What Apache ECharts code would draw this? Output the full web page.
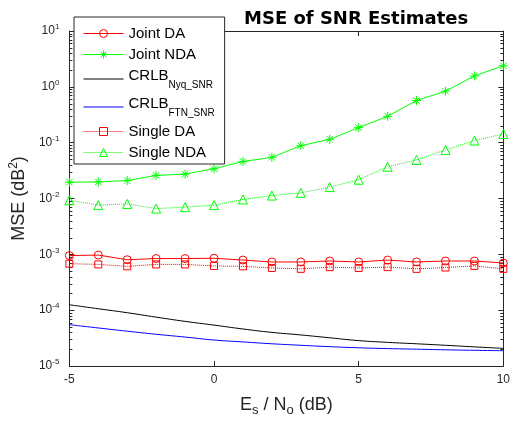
<!DOCTYPE html>
<html>
<head>
<meta charset="utf-8">
<script src="https://cdn.jsdelivr.net/npm/echarts@6/dist/echarts.min.js"></script>
<style>
  html, body { margin: 0; padding: 0; background: #fff; }
  #chart { width: 513px; height: 423px; }
</style>
</head>
<body>
<div id="chart"></div>
<script>
// Es/No (dB)
var snr = [-5, -4, -3, -2, -1, 0, 1, 2, 3, 4, 5, 6, 7, 8, 9, 10];

var jointDA = [9.5e-4, 9.7e-4, 8.0e-4, 8.4e-4, 8.4e-4, 8.5e-4, 7.9e-4, 7.3e-4, 7.3e-4, 7.6e-4, 7.3e-4, 7.9e-4, 7.3e-4, 7.6e-4, 7.6e-4, 7.0e-4];
var jointNDA = [0.0196, 0.0198, 0.021, 0.0259, 0.0274, 0.0341, 0.046, 0.0546, 0.0883, 0.115, 0.186, 0.297, 0.569, 0.836, 1.57, 2.38];
var crlbNyq = [1.25e-4, 1.06e-4, 9.0e-5, 7.5e-5, 6.3e-5, 5.4e-5, 4.6e-5, 4.0e-5, 3.6e-5, 3.2e-5, 2.85e-5, 2.65e-5, 2.5e-5, 2.35e-5, 2.2e-5, 2.07e-5];
var crlbFTN = [5.5e-5, 4.8e-5, 4.2e-5, 3.7e-5, 3.3e-5, 2.92e-5, 2.7e-5, 2.5e-5, 2.35e-5, 2.22e-5, 2.12e-5, 2.05e-5, 2.0e-5, 1.95e-5, 1.91e-5, 1.88e-5];
var singleDA = [6.8e-4, 6.6e-4, 6.1e-4, 6.6e-4, 6.6e-4, 6.2e-4, 6.1e-4, 5.7e-4, 5.5e-4, 5.9e-4, 5.7e-4, 5.9e-4, 5.5e-4, 5.8e-4, 6.2e-4, 5.5e-4];
var singleNDA = [0.0093, 0.0076, 0.0080, 0.0066, 0.0070, 0.0076, 0.0096, 0.0113, 0.0126, 0.016, 0.0217, 0.037, 0.049, 0.074, 0.109, 0.143];

// minor ticks of the log axis (2..9 x 10^n)
var minorTickValues = [];
for (var e = -5; e < 1; e++) {
  for (var k = 2; k < 10; k++) minorTickValues.push([-5, k * Math.pow(10, e)]);
}

var axisColor = '#262626';
var starPath = 'path://M5,0L5,10M0,5L10,5M1.5,1.5L8.5,8.5M1.5,8.5L8.5,1.5';

function pairs(ys) {
  var out = [];
  for (var i = 0; i < snr.length; i++) out.push([snr[i], ys[i]]);
  return out;
}

function markerSeries(name, ys, color, symbol, size, dotted) {
  return {
    name: name,
    type: 'line',
    data: pairs(ys),
    symbol: symbol,
    symbolSize: size,
    showSymbol: true,
    lineStyle: { color: color, width: 1, type: dotted ? 'dotted' : 'solid' },
    itemStyle: { color: 'rgba(0,0,0,0)', borderColor: color, borderWidth: 1 },
    emphasis: { disabled: true },
    z: 3
  };
}

function legendItem(name, color, dotted, noMarker) {
  return {
    name: name,
    itemStyle: {
      color: 'rgba(0,0,0,0)',
      borderColor: noMarker ? 'rgba(0,0,0,0)' : color,
      borderWidth: 1
    },
    lineStyle: { color: color, width: 1, type: dotted ? 'dotted' : 'solid' }
  };
}

var legendData = [
  legendItem('Joint DA', '#ff0000', false, false),
  legendItem('Joint NDA', '#00ff00', false, false),
  legendItem('CRLB_Nyq_SNR', '#000000', false, true),
  legendItem('CRLB_FTN_SNR', '#0000ff', false, true),
  legendItem('Single DA', '#ff0000', true, false),
  legendItem('Single NDA', '#00ff00', true, false)
];

var myChart = echarts.init(document.getElementById('chart'));

var option = {
  backgroundColor: '#fff',
  animation: false,
  title: {
    text: 'MSE of SNR Estimates',
    left: 239,
    top: 5,
    textStyle: { fontFamily: 'DejaVu Sans', fontWeight: 'bold', fontSize: 18, color: '#000' }
  },
  legend: {
    data: legendData,
    orient: 'vertical',
    left: 74,
    top: 17,
    padding: [9, 10, 4, 9],
    itemGap: 6,
    itemWidth: 40,
    itemHeight: 10,
    backgroundColor: '#fff',
    borderColor: axisColor,
    borderWidth: 1,
    borderRadius: 0,
    selectedMode: false,
    textStyle: {
      fontFamily: 'Liberation Sans',
      fontSize: 15,
      color: '#000',
      rich: {
        m: { fontFamily: 'Liberation Sans', fontSize: 15, color: '#000', verticalAlign: 'top' },
        sub: { fontFamily: 'Liberation Sans', fontSize: 10, color: '#000', verticalAlign: 'bottom', padding: [12, 0, 0, 0] }
      }
    },
    formatter: function (name) {
      if (name === 'CRLB_Nyq_SNR') return '{m|CRLB}{sub|Nyq_SNR}';
      if (name === 'CRLB_FTN_SNR') return '{m|CRLB}{sub|FTN_SNR}';
      return name;
    }
  },
  grid: { left: 66, right: 7, top: 31, bottom: 57, containLabel: false },
  xAxis: [{
    type: 'value',
    min: -5,
    max: 10,
    interval: 5,
    name: 'E{sub|s} / N{sub|o} (dB)',
    nameLocation: 'middle',
    nameGap: 28,
    nameTextStyle: {
      fontFamily: 'Liberation Sans', fontSize: 18, color: axisColor,
      rich: {
        sub: { fontFamily: 'Liberation Sans', fontSize: 13, color: axisColor, verticalAlign: 'bottom', padding: [10, 0, 0, 0] }
      }
    },
    axisLine: { onZero: false, lineStyle: { color: axisColor, width: 1 } },
    axisTick: { inside: true, length: 5, lineStyle: { color: axisColor } },
    axisLabel: { margin: 8, fontFamily: 'Liberation Sans', fontSize: 12, color: axisColor },
    splitLine: { show: false }
  }, {
    type: 'value',
    position: 'top',
    min: -5,
    max: 10,
    interval: 5,
    axisLine: { show: true, onZero: false, lineStyle: { color: axisColor, width: 1 } },
    axisTick: { inside: true, length: 5, lineStyle: { color: axisColor } },
    axisLabel: { show: false },
    splitLine: { show: false }
  }],
  yAxis: [{
    type: 'log',
    logBase: 10,
    min: 1e-5,
    max: 10,
    name: 'MSE (dB{sup|2})',
    nameLocation: 'middle',
    nameGap: 38,
    nameTextStyle: {
      fontFamily: 'Liberation Sans', fontSize: 18, color: axisColor,
      rich: {
        sup: { fontFamily: 'Liberation Sans', fontSize: 12, color: axisColor, verticalAlign: 'top', padding: [0, 0, 10, 0] }
      }
    },
    axisLine: { show: true, onZero: false, lineStyle: { color: axisColor, width: 1 } },
    axisTick: { inside: true, length: 5, lineStyle: { color: axisColor } },
    axisLabel: {
      margin: 10,
      color: axisColor,
      formatter: function (v) {
        return '{b|10}{sup|' + Math.round(Math.log10(v)) + '}';
      },
      rich: {
        b: { fontFamily: 'Liberation Sans', fontSize: 12, color: axisColor },
        sup: { fontFamily: 'Liberation Sans', fontSize: 8, color: axisColor, padding: [0, 0, 8, 0] }
      }
    },
    splitLine: { show: false }
  }, {
    type: 'log',
    logBase: 10,
    min: 1e-5,
    max: 10,
    position: 'right',
    axisLine: { show: true, onZero: false, lineStyle: { color: axisColor, width: 1 } },
    axisTick: { inside: true, length: 5, lineStyle: { color: axisColor } },
    axisLabel: { show: false },
    splitLine: { show: false }
  }],
  series: [
    markerSeries('Joint DA', jointDA, '#ff0000', 'circle', 8, false),
    markerSeries('Joint NDA', jointNDA, '#00ff00', starPath, 9, false),
    {
      name: 'CRLB_Nyq_SNR', type: 'line', data: pairs(crlbNyq), smooth: true,
      symbol: 'none', showSymbol: false,
      lineStyle: { color: '#000000', width: 1 }, itemStyle: { color: '#000000' },
      emphasis: { disabled: true }
    },
    {
      name: 'CRLB_FTN_SNR', type: 'line', data: pairs(crlbFTN), smooth: true,
      symbol: 'none', showSymbol: false,
      lineStyle: { color: '#0000ff', width: 1 }, itemStyle: { color: '#0000ff' },
      emphasis: { disabled: true }
    },
    markerSeries('Single DA', singleDA, '#ff0000', 'rect', 7, true),
    markerSeries('Single NDA', singleNDA, '#00ff00', 'triangle', 9, true),
    {
      type: 'custom',
      silent: true,
      data: minorTickValues,
      encode: { x: 0, y: 1 },
      renderItem: function (params, api) {
        var l = api.coord([-5, api.value(1)]);
        var r = api.coord([10, api.value(1)]);
        var y = Math.round(l[1]) + 0.5;
        return {
          type: 'group',
          children: [
            { type: 'line', shape: { x1: l[0], y1: y, x2: l[0] + 3, y2: y }, style: { stroke: axisColor, lineWidth: 1 } },
            { type: 'line', shape: { x1: r[0], y1: y, x2: r[0] - 3, y2: y }, style: { stroke: axisColor, lineWidth: 1 } }
          ]
        };
      },
      z: 1
    }
  ]
};
myChart.setOption(option);
</script>
</body>
</html>
